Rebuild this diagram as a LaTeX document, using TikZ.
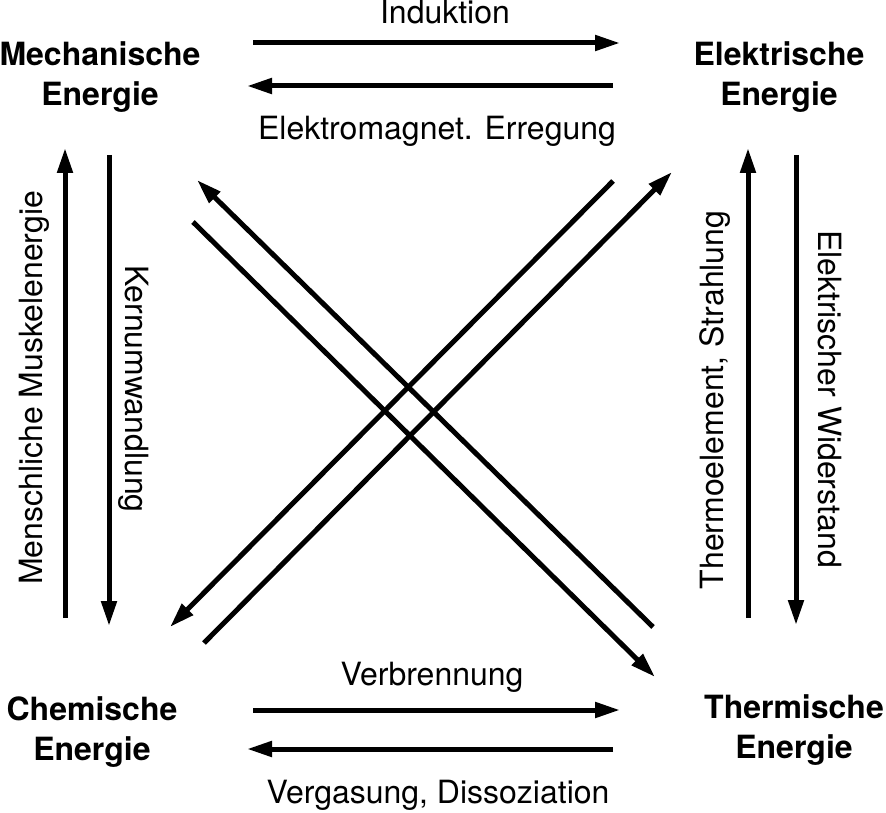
\documentclass[tikz,border=0pt]{standalone}
\usepackage{fontspec}
\setmainfont{TeX Gyre Heros}
\usetikzlibrary{arrows.meta}
\tikzset{
  energie/.style={
    font=\fontsize{32}{40}\selectfont\bfseries, align=center, inner sep=0mm
  },
  beschr/.style={
    font=\fontsize{32}{40}\selectfont, inner sep=0mm, anchor=base
  },
  pfeil/.style={
    -{Triangle[length=25pt,width=15pt]}, line width=5pt
  }
}

\begin{document}
\begin{tikzpicture}[x=1pt, y=-1pt]
   \useasboundingbox (0,0) rectangle (886,813);

   \node[energie] (mech) at (100, 77) {Mechanische\\Energie};
   \node[energie] (elek) at (779, 77) {Elektrische\\Energie};
   \node[energie] (chem) at (92, 732) {Chemische\\Energie};
   \node[energie] (therm) at (794, 730) {Thermische\\Energie};

   % Enden der Pfeile
   \coordinate (me1) at (253, 43);  \coordinate (me2) at (620, 43);
   \coordinate (em1) at (613, 86);  \coordinate (em2) at (247, 86);
   \coordinate (ct1) at (253, 710); \coordinate (ct2) at (620, 710);
   \coordinate (tc1) at (613, 749); \coordinate (tc2) at (247, 749);
   \coordinate (cm1) at (65, 618);  \coordinate (cm2) at (65, 148);
   \coordinate (mc1) at (109, 155); \coordinate (mc2) at (109, 626);
   \coordinate (te1) at (748, 618); \coordinate (te2) at (748, 148);
   \coordinate (et1) at (796, 155); \coordinate (et2) at (796, 625);
   \coordinate (tm1) at (653, 627); \coordinate (tm2) at (197, 180);
   \coordinate (mt1) at (193, 222); \coordinate (mt2) at (655, 677);
   \coordinate (ec1) at (613, 181); \coordinate (ec2) at (170, 627);
   \coordinate (ce1) at (204, 643); \coordinate (ce2) at (672, 172);

   \draw[pfeil] (me1) -- (me2);
   \draw[pfeil] (em1) -- (em2);
   \draw[pfeil] (ct1) -- (ct2);
   \draw[pfeil] (tc1) -- (tc2);
   \draw[pfeil] (cm1) -- (cm2);
   \draw[pfeil] (mc1) -- (mc2);
   \draw[pfeil] (te1) -- (te2);
   \draw[pfeil] (et1) -- (et2);
   \draw[pfeil] (tm1) -- (tm2);
   \draw[pfeil] (mt1) -- (mt2);
   \draw[pfeil] (ec1) -- (ec2);
   \draw[pfeil] (ce1) -- (ce2);

   \node[beschr] (induk) at (445, 24) {Induktion};
   \node[beschr] (erreg) at (437, 140) {Elektromagnet. Erregung};
   \node[beschr] (verbr) at (432, 685) {Verbrennung};
   \node[beschr] (verga) at (438, 803) {Vergasung, Dissoziation};
   \node[beschr, rotate=90] (muskel) at (42, 388) {Menschliche Muskelenergie};
   \node[beschr, rotate=-90] (kern) at (125, 389) {Kernumwandlung};
   \node[beschr, rotate=90] (thermo) at (723, 400) {Thermoelement, Strahlung};
   \node[beschr, rotate=-90] (wider) at (818, 399) {Elektrischer Widerstand};
\end{tikzpicture}
\end{document}
